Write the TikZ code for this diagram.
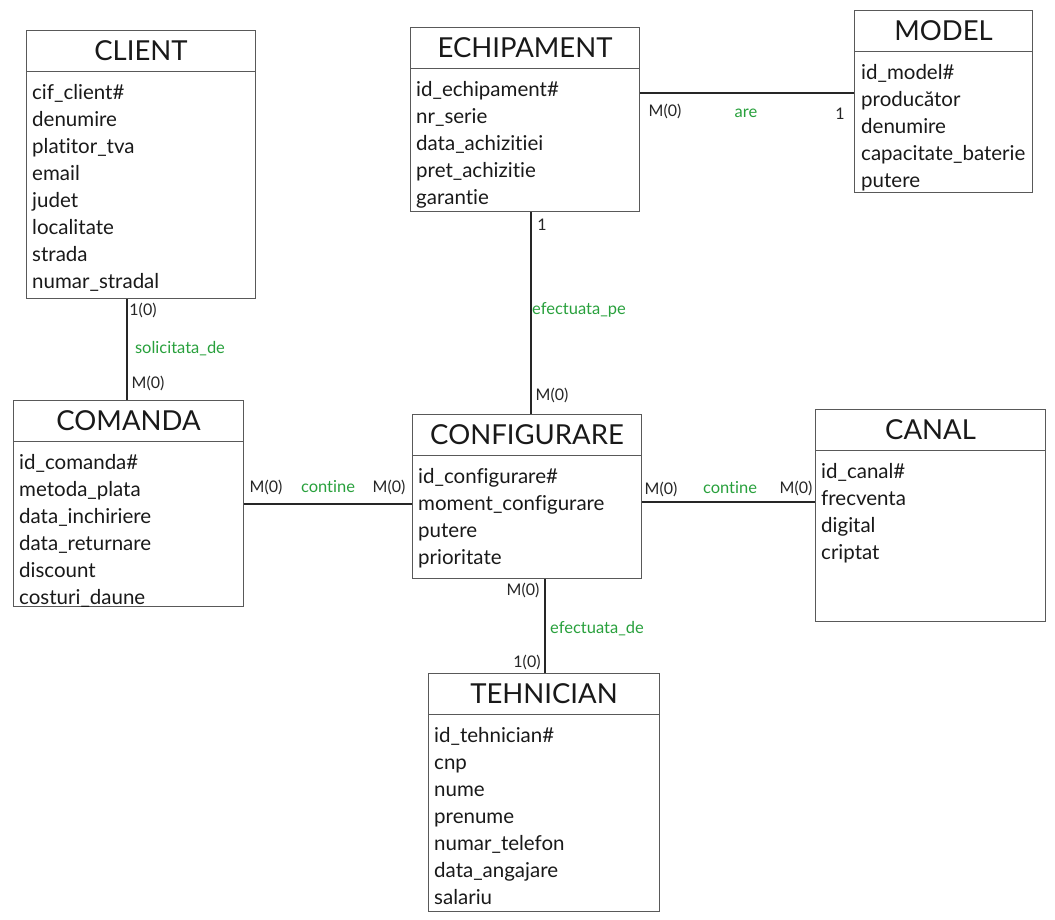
\documentclass[tikz,border=0pt]{standalone}
\usepackage{fontspec}
\setmainfont[Ligatures = NoCommon]{Lato}
\usepackage{tikz}
\usetikzlibrary{positioning}
\definecolor{relgreen}{RGB}{40,160,60}
\tikzstyle{entity} = [rectangle, draw = black!65, line width = 1pt, anchor = north west, inner sep = 0pt]
\tikzstyle{header} = [rectangle, draw = black!65, line width = 1pt, anchor = north, minimum height = 41pt, font = \fontsize{27.5}{30}\selectfont, text = black!90]
\tikzstyle{attrs} = [anchor = north west, align = left, inner sep = 0pt, font = \fontsize{20.5}{27}\selectfont, text = black!90]
\tikzstyle{card} = [font = \fontsize{16}{18}\selectfont, text = black!85]
\tikzstyle{role} = [font = \fontsize{16.5}{18}\selectfont, text = relgreen]
\tikzstyle{line} = [draw, line width = 2pt, black!85]

\begin{document}
\begin{tikzpicture}[x = 1pt, y = -1pt]
			\useasboundingbox (0, 0) rectangle (1055, 920);
			% Place nodes
			\node [entity, minimum width = 229pt, minimum height = 268pt] (client) at (26, 30) {};
			\node [header, minimum width = 229pt] (clientH) at (client.north) {CLIENT};
			\node [attrs] (clientA) at ([xshift = 6pt, yshift = -12pt]clientH.south west) {cif\_client\#\\denumire\\platitor\_tva\\email\\judet\\localitate\\strada\\numar\_stradal};
			\node [entity, minimum width = 229pt, minimum height = 184pt] (echipament) at (410, 27) {};
			\node [header, minimum width = 229pt] (echipamentH) at (echipament.north) {ECHIPAMENT};
			\node [attrs] (echipamentA) at ([xshift = 6pt, yshift = -12pt]echipamentH.south west) {id\_echipament\#\\nr\_serie\\data\_achizitiei\\pret\_achizitie\\garantie};
			\node [entity, minimum width = 178pt, minimum height = 182pt] (model) at (854, 10) {};
			\node [header, minimum width = 178pt] (modelH) at (model.north) {MODEL};
			\node [attrs] (modelA) at ([xshift = 7pt, yshift = -12pt]modelH.south west) {id\_model\#\\producător\\denumire\\capacitate\_baterie\\putere};
			\node [entity, minimum width = 230pt, minimum height = 206pt] (comanda) at (13, 400) {};
			\node [header, minimum width = 230pt] (comandaH) at (comanda.north) {COMANDA};
			\node [attrs] (comandaA) at ([xshift = 6pt, yshift = -12pt]comandaH.south west) {id\_comanda\#\\metoda\_plata\\data\_inchiriere\\data\_returnare\\discount\\costuri\_daune};
			\node [entity, minimum width = 229pt, minimum height = 164pt] (configurare) at (412, 414) {};
			\node [header, minimum width = 229pt] (configurareH) at (configurare.north) {CONFIGURARE};
			\node [attrs] (configurareA) at ([xshift = 6pt, yshift = -12pt]configurareH.south west) {id\_configurare\#\\moment\_configurare\\putere\\prioritate};
			\node [entity, minimum width = 230pt, minimum height = 212pt] (canal) at (815, 409) {};
			\node [header, minimum width = 230pt] (canalH) at (canal.north) {CANAL};
			\node [attrs] (canalA) at ([xshift = 6pt, yshift = -12pt]canalH.south west) {id\_canal\#\\frecventa\\digital\\criptat};
			\node [entity, minimum width = 231pt, minimum height = 238pt] (tehnician) at (428, 673) {};
			\node [header, minimum width = 231pt] (tehnicianH) at (tehnician.north) {TEHNICIAN};
			\node [attrs] (tehnicianA) at ([xshift = 6pt, yshift = -12pt]tehnicianH.south west) {id\_tehnician\#\\cnp\\nume\\prenume\\numar\_telefon\\data\_angajare\\salariu};
			% Draw edges
			\coordinate (modelEnd) at ([yshift = 8pt]model.west);
			\coordinate (canalEnd) at ([yshift = -5pt]configurare.east);
			\coordinate (echipEnd) at ([xshift = 4pt]configurare.north);
			\path [line] ([xshift = -2pt]comanda.north) -- ([xshift = -2pt]comanda.north |- client.south);
			\path [line] (echipEnd) -- (echipEnd |- echipament.south);
			\path [line] (modelEnd) -- (echipament.east |- modelEnd);
			\path [line] (comanda.east) -- (comanda.east -| configurare.west);
			\path [line] (canalEnd) -- (canalEnd -| canal.west);
			\path [line] ([xshift = 1pt]tehnician.north) -- ([xshift = 1pt]tehnician.north |- configurare.south);
			% Labels
			\node [card] (c1) at (143, 310) {1(0)};
			\node [role] (r1) at (180, 349) {solicitata\_de};
			\node [card] (c2) at (148, 383) {M(0)};
			\node [card] (c3) at (542, 225) {1};
			\node [role] (r2) at (579, 310) {efectuata\_pe};
			\node [card] (c4) at (552, 395) {M(0)};
			\node [card] (c5) at (665, 111) {M(0)};
			\node [role] (r3) at (746, 113) {are};
			\node [card] (c6) at (840, 114) {1};
			\node [card] (c7) at (266, 487) {M(0)};
			\node [role] (r4) at (328, 487) {contine};
			\node [card] (c8) at (389, 487) {M(0)};
			\node [card] (c9) at (661, 489) {M(0)};
			\node [role] (r5) at (730, 488) {contine};
			\node [card] (c10) at (796, 488) {M(0)};
			\node [card] (c11) at (523, 590) {M(0)};
			\node [role] (r6) at (597, 629) {efectuata\_de};
			\node [card] (c12) at (527, 662) {1(0)};
\end{tikzpicture}
\end{document}
